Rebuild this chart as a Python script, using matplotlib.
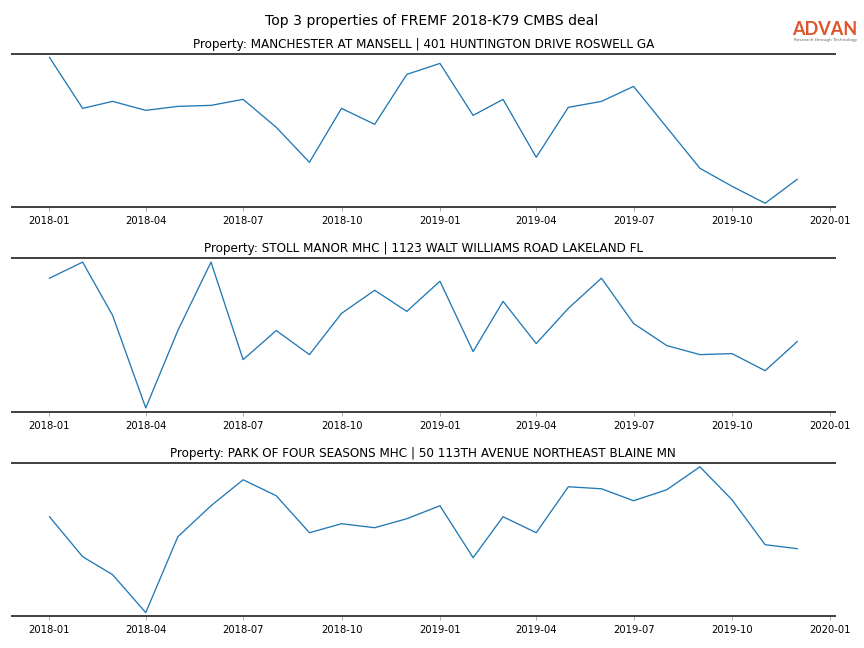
"""Top 3 properties of a CMBS deal, monthly series per property."""

import matplotlib.pyplot as plt
import matplotlib.dates as mdates
import pandas as pd

## Data
months = pd.date_range('2018-01-01', periods=24, freq='MS')

titles = [
    'Property: MANCHESTER AT MANSELL | 401 HUNTINGTON DRIVE ROSWELL GA',
    'Property: STOLL MANOR MHC | 1123 WALT WILLIAMS ROAD LAKELAND FL',
    'Property: PARK OF FOUR SEASONS MHC | 50 113TH AVENUE NORTHEAST BLAINE MN',
]

manchester = [150, 99, 106, 97, 101, 102, 108, 80, 45, 99, 83, 133,
              144, 92, 108, 50, 100, 106, 121, 80, 39, 21, 4, 28]
stoll = [131, 147, 94, 2, 79, 147, 50, 79, 55, 96, 119, 98,
         128, 58, 108, 66, 101, 131, 86, 64, 55, 56, 39, 68]
four_seasons = [99, 59, 41, 3, 79, 110, 136, 120, 83, 92, 88, 97,
                110, 58, 99, 83, 129, 127, 115, 126, 149, 116, 71, 67]

series = [manchester, stoll, four_seasons]

## Style
SPINE_COLOR = '#444444'
LINE_COLOR = '#1f77b4'

fig, axes = plt.subplots(3, 1, figsize=(12, 9), dpi=72)
fig.subplots_adjust(left=0.014, right=0.966, top=0.917, bottom=0.049, hspace=0.337)

fig.suptitle('Top 3 properties of FREMF 2018-K79 CMBS deal', fontsize=14, y=0.978)

for ax, title, values in zip(axes, titles, series):
    ax.plot(months, values, color=LINE_COLOR, lw=1.3)
    ax.set_title(title, fontsize=12, pad=6)
    ax.margins(y=0.025)
    ax.set_yticks([])
    ax.xaxis.set_major_locator(mdates.MonthLocator(bymonth=[1, 4, 7, 10]))
    ax.xaxis.set_major_formatter(mdates.DateFormatter('%Y-%m'))
    ax.tick_params(axis='x', labelsize=10, length=4, color='#999999', pad=5)
    for side in ['left', 'right']:
        ax.spines[side].set_visible(False)
    for side in ['top', 'bottom']:
        ax.spines[side].set_color(SPINE_COLOR)
        ax.spines[side].set_linewidth(2)

# logo
fig.text(0.955, 0.946, 'ADVAN', color='#e0542a', fontsize=18, ha='center', va='baseline',
         family='Lato', weight='bold')
fig.text(0.955, 0.937, 'Research through Technology', color='#666666', fontsize=4.3,
         ha='center', va='baseline')

fig.savefig('out.png', dpi=72)
